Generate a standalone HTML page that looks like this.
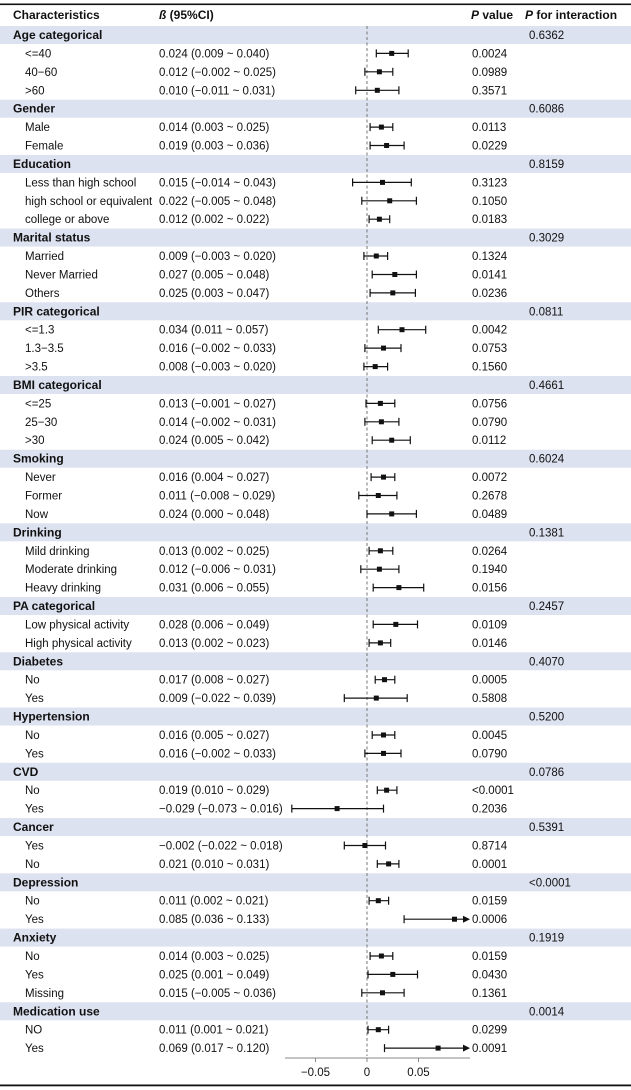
<!DOCTYPE html>
<html><head><meta charset="utf-8"><style>
html,body{margin:0;padding:0;background:#fff;}
svg{display:block;font-family:"Liberation Sans",Arial,sans-serif;font-size:11.5px;fill:#111;}
.h{font-weight:bold;font-size:12px;}
.b{fill:#dde2f0;}
.f line{stroke:#111;stroke-width:1.2;vector-effect:non-scaling-stroke;}
</style></head><body>
<svg width="631" height="1090" viewBox="0 0 631 1090" xmlns="http://www.w3.org/2000/svg">
<rect x="0" y="3.5" width="631" height="1.6" fill="#111"/>
<rect x="0" y="1084.5" width="631" height="1.8" fill="#111"/>
<text class="h" x="13" y="19">Characteristics</text>
<text class="h" x="159" y="19"><tspan font-style="italic">ß</tspan> (95%CI)</text>
<text class="h" x="471" y="19"><tspan font-style="italic">P</tspan> value</text>
<text class="h" x="525" y="19"><tspan font-style="italic">P</tspan> for interaction</text>

<!-- group bands -->
<g>
<rect class="b" x="0" y="26" width="631" height="18"/>
<rect class="b" x="0" y="99.7" width="631" height="18"/>
<rect class="b" x="0" y="154.9" width="631" height="18"/>
<rect class="b" x="0" y="228.6" width="631" height="18"/>
<rect class="b" x="0" y="302.3" width="631" height="18"/>
<rect class="b" x="0" y="376" width="631" height="18"/>
<rect class="b" x="0" y="449.7" width="631" height="18"/>
<rect class="b" x="0" y="523.3" width="631" height="18"/>
<rect class="b" x="0" y="597" width="631" height="18"/>
<rect class="b" x="0" y="652.3" width="631" height="18"/>
<rect class="b" x="0" y="707.5" width="631" height="18"/>
<rect class="b" x="0" y="762.8" width="631" height="18"/>
<rect class="b" x="0" y="818.1" width="631" height="18"/>
<rect class="b" x="0" y="873.3" width="631" height="18"/>
<rect class="b" x="0" y="928.6" width="631" height="18"/>
<rect class="b" x="0" y="1002.3" width="631" height="18"/>
</g>

<line x1="367" y1="26" x2="367" y2="1056" stroke="#777" stroke-width="1" stroke-dasharray="3,2.5"/>

<!-- axis -->
<line x1="285" y1="1058" x2="470" y2="1058" stroke="#888" stroke-width="1"/>
<line x1="315.5" y1="1058" x2="315.5" y2="1062" stroke="#888"/>
<line x1="367" y1="1058" x2="367" y2="1062" stroke="#888"/>
<line x1="418.5" y1="1058" x2="418.5" y2="1062" stroke="#888"/>
<text x="315.5" y="1076" text-anchor="middle">−0.05</text>
<text x="367" y="1076" text-anchor="middle">0</text>
<text x="418.5" y="1076" text-anchor="middle">0.05</text>

<!-- headers -->
<g class="h">
<text class="h" x="13" y="39">Age categorical</text>
<text class="h" x="13" y="112.7">Gender</text>
<text class="h" x="13" y="167.9">Education</text>
<text class="h" x="13" y="241.6">Marital status</text>
<text class="h" x="13" y="315.3">PIR categorical</text>
<text class="h" x="13" y="389">BMI categorical</text>
<text class="h" x="13" y="462.7">Smoking</text>
<text class="h" x="13" y="536.3">Drinking</text>
<text class="h" x="13" y="610">PA categorical</text>
<text class="h" x="13" y="665.3">Diabetes</text>
<text class="h" x="13" y="720.5">Hypertension</text>
<text class="h" x="13" y="775.8">CVD</text>
<text class="h" x="13" y="831.1">Cancer</text>
<text class="h" x="13" y="886.3">Depression</text>
<text class="h" x="13" y="941.6">Anxiety</text>
<text class="h" x="13" y="1015.3">Medication use</text>
</g>
<g>
<text x="529" y="39">0.6362</text>
<text x="529" y="112.7">0.6086</text>
<text x="529" y="167.9">0.8159</text>
<text x="529" y="241.6">0.3029</text>
<text x="529" y="315.3">0.0811</text>
<text x="529" y="389">0.4661</text>
<text x="529" y="462.7">0.6024</text>
<text x="529" y="536.3">0.1381</text>
<text x="529" y="610">0.2457</text>
<text x="529" y="665.3">0.4070</text>
<text x="529" y="720.5">0.5200</text>
<text x="529" y="775.8">0.0786</text>
<text x="529" y="831.1">0.5391</text>
<text x="529" y="886.3">&lt;0.0001</text>
<text x="529" y="941.6">0.1919</text>
<text x="529" y="1015.3">0.0014</text>
</g>

<!-- sub rows text -->
<g>
<text x="25" y="57.4">&lt;=40</text><text x="159" y="57.4">0.024 (0.009 ~ 0.040)</text><text x="472" y="57.4">0.0024</text>
<text x="25" y="75.8">40−60</text><text x="159" y="75.8">0.012 (−0.002 ~ 0.025)</text><text x="472" y="75.8">0.0989</text>
<text x="25" y="94.3">&gt;60</text><text x="159" y="94.3">0.010 (−0.011 ~ 0.031)</text><text x="472" y="94.3">0.3571</text>
<text x="25" y="131.1">Male</text><text x="159" y="131.1">0.014 (0.003 ~ 0.025)</text><text x="472" y="131.1">0.0113</text>
<text x="25" y="149.5">Female</text><text x="159" y="149.5">0.019 (0.003 ~ 0.036)</text><text x="472" y="149.5">0.0229</text>
<text x="25" y="186.4">Less than high school</text><text x="159" y="186.4">0.015 (−0.014 ~ 0.043)</text><text x="472" y="186.4">0.3123</text>
<text x="25" y="204.8">high school or equivalent</text><text x="159" y="204.8">0.022 (−0.005 ~ 0.048)</text><text x="472" y="204.8">0.1050</text>
<text x="25" y="223.2">college or above</text><text x="159" y="223.2">0.012 (0.002 ~ 0.022)</text><text x="472" y="223.2">0.0183</text>
<text x="25" y="260">Married</text><text x="159" y="260">0.009 (−0.003 ~ 0.020)</text><text x="472" y="260">0.1324</text>
<text x="25" y="278.5">Never Married</text><text x="159" y="278.5">0.027 (0.005 ~ 0.048)</text><text x="472" y="278.5">0.0141</text>
<text x="25" y="296.9">Others</text><text x="159" y="296.9">0.025 (0.003 ~ 0.047)</text><text x="472" y="296.9">0.0236</text>
<text x="25" y="333.7">&lt;=1.3</text><text x="159" y="333.7">0.034 (0.011 ~ 0.057)</text><text x="472" y="333.7">0.0042</text>
<text x="25" y="352.1">1.3−3.5</text><text x="159" y="352.1">0.016 (−0.002 ~ 0.033)</text><text x="472" y="352.1">0.0753</text>
<text x="25" y="370.6">&gt;3.5</text><text x="159" y="370.6">0.008 (−0.003 ~ 0.020)</text><text x="472" y="370.6">0.1560</text>
<text x="25" y="407.4">&lt;=25</text><text x="159" y="407.4">0.013 (−0.001 ~ 0.027)</text><text x="472" y="407.4">0.0756</text>
<text x="25" y="425.8">25−30</text><text x="159" y="425.8">0.014 (−0.002 ~ 0.031)</text><text x="472" y="425.8">0.0790</text>
<text x="25" y="444.2">&gt;30</text><text x="159" y="444.2">0.024 (0.005 ~ 0.042)</text><text x="472" y="444.2">0.0112</text>
<text x="25" y="481.1">Never</text><text x="159" y="481.1">0.016 (0.004 ~ 0.027)</text><text x="472" y="481.1">0.0072</text>
<text x="25" y="499.5">Former</text><text x="159" y="499.5">0.011 (−0.008 ~ 0.029)</text><text x="472" y="499.5">0.2678</text>
<text x="25" y="517.9">Now</text><text x="159" y="517.9">0.024 (0.000 ~ 0.048)</text><text x="472" y="517.9">0.0489</text>
<text x="25" y="554.8">Mild drinking</text><text x="159" y="554.8">0.013 (0.002 ~ 0.025)</text><text x="472" y="554.8">0.0264</text>
<text x="25" y="573.2">Moderate drinking</text><text x="159" y="573.2">0.012 (−0.006 ~ 0.031)</text><text x="472" y="573.2">0.1940</text>
<text x="25" y="591.6">Heavy drinking</text><text x="159" y="591.6">0.031 (0.006 ~ 0.055)</text><text x="472" y="591.6">0.0156</text>
<text x="25" y="628.4">Low physical activity</text><text x="159" y="628.4">0.028 (0.006 ~ 0.049)</text><text x="472" y="628.4">0.0109</text>
<text x="25" y="646.9">High physical activity</text><text x="159" y="646.9">0.013 (0.002 ~ 0.023)</text><text x="472" y="646.9">0.0146</text>
<text x="25" y="683.7">No</text><text x="159" y="683.7">0.017 (0.008 ~ 0.027)</text><text x="472" y="683.7">0.0005</text>
<text x="25" y="702.1">Yes</text><text x="159" y="702.1">0.009 (−0.022 ~ 0.039)</text><text x="472" y="702.1">0.5808</text>
<text x="25" y="739">No</text><text x="159" y="739">0.016 (0.005 ~ 0.027)</text><text x="472" y="739">0.0045</text>
<text x="25" y="757.4">Yes</text><text x="159" y="757.4">0.016 (−0.002 ~ 0.033)</text><text x="472" y="757.4">0.0790</text>
<text x="25" y="794.2">No</text><text x="159" y="794.2">0.019 (0.010 ~ 0.029)</text><text x="472" y="794.2">&lt;0.0001</text>
<text x="25" y="812.6">Yes</text><text x="159" y="812.6">−0.029 (−0.073 ~ 0.016)</text><text x="472" y="812.6">0.2036</text>
<text x="25" y="849.5">Yes</text><text x="159" y="849.5">−0.002 (−0.022 ~ 0.018)</text><text x="472" y="849.5">0.8714</text>
<text x="25" y="867.9">No</text><text x="159" y="867.9">0.021 (0.010 ~ 0.031)</text><text x="472" y="867.9">0.0001</text>
<text x="25" y="904.7">No</text><text x="159" y="904.7">0.011 (0.002 ~ 0.021)</text><text x="472" y="904.7">0.0159</text>
<text x="25" y="923.2">Yes</text><text x="159" y="923.2">0.085 (0.036 ~ 0.133)</text><text x="472" y="923.2">0.0006</text>
<text x="25" y="960">No</text><text x="159" y="960">0.014 (0.003 ~ 0.025)</text><text x="472" y="960">0.0159</text>
<text x="25" y="978.4">Yes</text><text x="159" y="978.4">0.025 (0.001 ~ 0.049)</text><text x="472" y="978.4">0.0430</text>
<text x="25" y="996.8">Missing</text><text x="159" y="996.8">0.015 (−0.005 ~ 0.036)</text><text x="472" y="996.8">0.1361</text>
<text x="25" y="1033.7">NO</text><text x="159" y="1033.7">0.011 (0.001 ~ 0.021)</text><text x="472" y="1033.7">0.0299</text>
<text x="25" y="1052.1">Yes</text><text x="159" y="1052.1">0.069 (0.017 ~ 0.120)</text><text x="472" y="1052.1">0.0091</text>
</g>

<!-- forest: x = 367 + 1030*v -->
<g class="f" transform="translate(367,0)">
<g transform="translate(0,53.4)"><line x1="9.3" x2="41.2" y1="0" y2="0"/><line x1="9.3" x2="9.3" y1="-4" y2="4"/><line x1="41.2" x2="41.2" y1="-4" y2="4"/><rect x="22.2" y="-2.5" width="5" height="5" fill="#111"/></g>
<g transform="translate(0,71.8)"><line x1="-2.1" x2="25.8" y1="0" y2="0"/><line x1="-2.1" x2="-2.1" y1="-4" y2="4"/><line x1="25.8" x2="25.8" y1="-4" y2="4"/><rect x="9.9" y="-2.5" width="5" height="5" fill="#111"/></g>
<g transform="translate(0,90.3)"><line x1="-11.3" x2="31.9" y1="0" y2="0"/><line x1="-11.3" x2="-11.3" y1="-4" y2="4"/><line x1="31.9" x2="31.9" y1="-4" y2="4"/><rect x="7.8" y="-2.5" width="5" height="5" fill="#111"/></g>
<g transform="translate(0,127.1)"><line x1="3.1" x2="25.8" y1="0" y2="0"/><line x1="3.1" x2="3.1" y1="-4" y2="4"/><line x1="25.8" x2="25.8" y1="-4" y2="4"/><rect x="11.9" y="-2.5" width="5" height="5" fill="#111"/></g>
<g transform="translate(0,145.5)"><line x1="3.1" x2="37.1" y1="0" y2="0"/><line x1="3.1" x2="3.1" y1="-4" y2="4"/><line x1="37.1" x2="37.1" y1="-4" y2="4"/><rect x="17.1" y="-2.5" width="5" height="5" fill="#111"/></g>
<g transform="translate(0,182.4)"><line x1="-14.4" x2="44.3" y1="0" y2="0"/><line x1="-14.4" x2="-14.4" y1="-4" y2="4"/><line x1="44.3" x2="44.3" y1="-4" y2="4"/><rect x="13" y="-2.5" width="5" height="5" fill="#111"/></g>
<g transform="translate(0,200.8)"><line x1="-5.2" x2="49.4" y1="0" y2="0"/><line x1="-5.2" x2="-5.2" y1="-4" y2="4"/><line x1="49.4" x2="49.4" y1="-4" y2="4"/><rect x="20.2" y="-2.5" width="5" height="5" fill="#111"/></g>
<g transform="translate(0,219.2)"><line x1="2.1" x2="22.7" y1="0" y2="0"/><line x1="2.1" x2="2.1" y1="-4" y2="4"/><line x1="22.7" x2="22.7" y1="-4" y2="4"/><rect x="9.9" y="-2.5" width="5" height="5" fill="#111"/></g>
<g transform="translate(0,256)"><line x1="-3.1" x2="20.6" y1="0" y2="0"/><line x1="-3.1" x2="-3.1" y1="-4" y2="4"/><line x1="20.6" x2="20.6" y1="-4" y2="4"/><rect x="6.8" y="-2.5" width="5" height="5" fill="#111"/></g>
<g transform="translate(0,274.5)"><line x1="5.2" x2="49.4" y1="0" y2="0"/><line x1="5.2" x2="5.2" y1="-4" y2="4"/><line x1="49.4" x2="49.4" y1="-4" y2="4"/><rect x="25.3" y="-2.5" width="5" height="5" fill="#111"/></g>
<g transform="translate(0,292.9)"><line x1="3.1" x2="48.4" y1="0" y2="0"/><line x1="3.1" x2="3.1" y1="-4" y2="4"/><line x1="48.4" x2="48.4" y1="-4" y2="4"/><rect x="23.3" y="-2.5" width="5" height="5" fill="#111"/></g>
<g transform="translate(0,329.7)"><line x1="11.3" x2="58.7" y1="0" y2="0"/><line x1="11.3" x2="11.3" y1="-4" y2="4"/><line x1="58.7" x2="58.7" y1="-4" y2="4"/><rect x="32.5" y="-2.5" width="5" height="5" fill="#111"/></g>
<g transform="translate(0,348.1)"><line x1="-2.1" x2="34" y1="0" y2="0"/><line x1="-2.1" x2="-2.1" y1="-4" y2="4"/><line x1="34" x2="34" y1="-4" y2="4"/><rect x="14" y="-2.5" width="5" height="5" fill="#111"/></g>
<g transform="translate(0,366.6)"><line x1="-3.1" x2="20.6" y1="0" y2="0"/><line x1="-3.1" x2="-3.1" y1="-4" y2="4"/><line x1="20.6" x2="20.6" y1="-4" y2="4"/><rect x="5.7" y="-2.5" width="5" height="5" fill="#111"/></g>
<g transform="translate(0,403.4)"><line x1="-1" x2="27.8" y1="0" y2="0"/><line x1="-1" x2="-1" y1="-4" y2="4"/><line x1="27.8" x2="27.8" y1="-4" y2="4"/><rect x="10.9" y="-2.5" width="5" height="5" fill="#111"/></g>
<g transform="translate(0,421.8)"><line x1="-2.1" x2="31.9" y1="0" y2="0"/><line x1="-2.1" x2="-2.1" y1="-4" y2="4"/><line x1="31.9" x2="31.9" y1="-4" y2="4"/><rect x="11.9" y="-2.5" width="5" height="5" fill="#111"/></g>
<g transform="translate(0,440.2)"><line x1="5.2" x2="43.3" y1="0" y2="0"/><line x1="5.2" x2="5.2" y1="-4" y2="4"/><line x1="43.3" x2="43.3" y1="-4" y2="4"/><rect x="22.2" y="-2.5" width="5" height="5" fill="#111"/></g>
<g transform="translate(0,477.1)"><line x1="4.1" x2="27.8" y1="0" y2="0"/><line x1="4.1" x2="4.1" y1="-4" y2="4"/><line x1="27.8" x2="27.8" y1="-4" y2="4"/><rect x="14" y="-2.5" width="5" height="5" fill="#111"/></g>
<g transform="translate(0,495.5)"><line x1="-8.2" x2="29.9" y1="0" y2="0"/><line x1="-8.2" x2="-8.2" y1="-4" y2="4"/><line x1="29.9" x2="29.9" y1="-4" y2="4"/><rect x="8.8" y="-2.5" width="5" height="5" fill="#111"/></g>
<g transform="translate(0,513.9)"><line x1="0" x2="49.4" y1="0" y2="0"/><line x1="0" x2="0" y1="-4" y2="4"/><line x1="49.4" x2="49.4" y1="-4" y2="4"/><rect x="22.2" y="-2.5" width="5" height="5" fill="#111"/></g>
<g transform="translate(0,550.8)"><line x1="2.1" x2="25.8" y1="0" y2="0"/><line x1="2.1" x2="2.1" y1="-4" y2="4"/><line x1="25.8" x2="25.8" y1="-4" y2="4"/><rect x="10.9" y="-2.5" width="5" height="5" fill="#111"/></g>
<g transform="translate(0,569.2)"><line x1="-6.2" x2="31.9" y1="0" y2="0"/><line x1="-6.2" x2="-6.2" y1="-4" y2="4"/><line x1="31.9" x2="31.9" y1="-4" y2="4"/><rect x="9.9" y="-2.5" width="5" height="5" fill="#111"/></g>
<g transform="translate(0,587.6)"><line x1="6.2" x2="56.7" y1="0" y2="0"/><line x1="6.2" x2="6.2" y1="-4" y2="4"/><line x1="56.7" x2="56.7" y1="-4" y2="4"/><rect x="29.4" y="-2.5" width="5" height="5" fill="#111"/></g>
<g transform="translate(0,624.4)"><line x1="6.2" x2="50.5" y1="0" y2="0"/><line x1="6.2" x2="6.2" y1="-4" y2="4"/><line x1="50.5" x2="50.5" y1="-4" y2="4"/><rect x="26.3" y="-2.5" width="5" height="5" fill="#111"/></g>
<g transform="translate(0,642.9)"><line x1="2.1" x2="23.7" y1="0" y2="0"/><line x1="2.1" x2="2.1" y1="-4" y2="4"/><line x1="23.7" x2="23.7" y1="-4" y2="4"/><rect x="10.9" y="-2.5" width="5" height="5" fill="#111"/></g>
<g transform="translate(0,679.7)"><line x1="8.2" x2="27.8" y1="0" y2="0"/><line x1="8.2" x2="8.2" y1="-4" y2="4"/><line x1="27.8" x2="27.8" y1="-4" y2="4"/><rect x="15" y="-2.5" width="5" height="5" fill="#111"/></g>
<g transform="translate(0,698.1)"><line x1="-22.7" x2="40.2" y1="0" y2="0"/><line x1="-22.7" x2="-22.7" y1="-4" y2="4"/><line x1="40.2" x2="40.2" y1="-4" y2="4"/><rect x="6.8" y="-2.5" width="5" height="5" fill="#111"/></g>
<g transform="translate(0,735)"><line x1="5.2" x2="27.8" y1="0" y2="0"/><line x1="5.2" x2="5.2" y1="-4" y2="4"/><line x1="27.8" x2="27.8" y1="-4" y2="4"/><rect x="14" y="-2.5" width="5" height="5" fill="#111"/></g>
<g transform="translate(0,753.4)"><line x1="-2.1" x2="34" y1="0" y2="0"/><line x1="-2.1" x2="-2.1" y1="-4" y2="4"/><line x1="34" x2="34" y1="-4" y2="4"/><rect x="14" y="-2.5" width="5" height="5" fill="#111"/></g>
<g transform="translate(0,790.2)"><line x1="10.3" x2="29.9" y1="0" y2="0"/><line x1="10.3" x2="10.3" y1="-4" y2="4"/><line x1="29.9" x2="29.9" y1="-4" y2="4"/><rect x="17.1" y="-2.5" width="5" height="5" fill="#111"/></g>
<g transform="translate(0,808.6)"><line x1="-75.2" x2="16.5" y1="0" y2="0"/><line x1="-75.2" x2="-75.2" y1="-4" y2="4"/><line x1="16.5" x2="16.5" y1="-4" y2="4"/><rect x="-32.4" y="-2.5" width="5" height="5" fill="#111"/></g>
<g transform="translate(0,845.5)"><line x1="-22.7" x2="18.5" y1="0" y2="0"/><line x1="-22.7" x2="-22.7" y1="-4" y2="4"/><line x1="18.5" x2="18.5" y1="-4" y2="4"/><rect x="-4.6" y="-2.5" width="5" height="5" fill="#111"/></g>
<g transform="translate(0,863.9)"><line x1="10.3" x2="31.9" y1="0" y2="0"/><line x1="10.3" x2="10.3" y1="-4" y2="4"/><line x1="31.9" x2="31.9" y1="-4" y2="4"/><rect x="19.1" y="-2.5" width="5" height="5" fill="#111"/></g>
<g transform="translate(0,900.7)"><line x1="2.1" x2="21.6" y1="0" y2="0"/><line x1="2.1" x2="2.1" y1="-4" y2="4"/><line x1="21.6" x2="21.6" y1="-4" y2="4"/><rect x="8.8" y="-2.5" width="5" height="5" fill="#111"/></g>
<g transform="translate(0,919.2)"><line x1="37.1" x2="98" y1="0" y2="0"/><line x1="37.1" x2="37.1" y1="-4" y2="4"/><polygon points="103,0 96,-3.5 96,3.5" fill="#111"/><rect x="85" y="-2.5" width="5" height="5" fill="#111"/></g>
<g transform="translate(0,956)"><line x1="3.1" x2="25.8" y1="0" y2="0"/><line x1="3.1" x2="3.1" y1="-4" y2="4"/><line x1="25.8" x2="25.8" y1="-4" y2="4"/><rect x="11.9" y="-2.5" width="5" height="5" fill="#111"/></g>
<g transform="translate(0,974.4)"><line x1="1" x2="50.5" y1="0" y2="0"/><line x1="1" x2="1" y1="-4" y2="4"/><line x1="50.5" x2="50.5" y1="-4" y2="4"/><rect x="23.3" y="-2.5" width="5" height="5" fill="#111"/></g>
<g transform="translate(0,992.8)"><line x1="-5.2" x2="37.1" y1="0" y2="0"/><line x1="-5.2" x2="-5.2" y1="-4" y2="4"/><line x1="37.1" x2="37.1" y1="-4" y2="4"/><rect x="13" y="-2.5" width="5" height="5" fill="#111"/></g>
<g transform="translate(0,1029.7)"><line x1="1" x2="21.6" y1="0" y2="0"/><line x1="1" x2="1" y1="-4" y2="4"/><line x1="21.6" x2="21.6" y1="-4" y2="4"/><rect x="8.8" y="-2.5" width="5" height="5" fill="#111"/></g>
<g transform="translate(0,1048.1)"><line x1="17.5" x2="98" y1="0" y2="0"/><line x1="17.5" x2="17.5" y1="-4" y2="4"/><polygon points="103,0 96,-3.5 96,3.5" fill="#111"/><rect x="68.6" y="-2.5" width="5" height="5" fill="#111"/></g>
</g>
</svg>
</body></html>
